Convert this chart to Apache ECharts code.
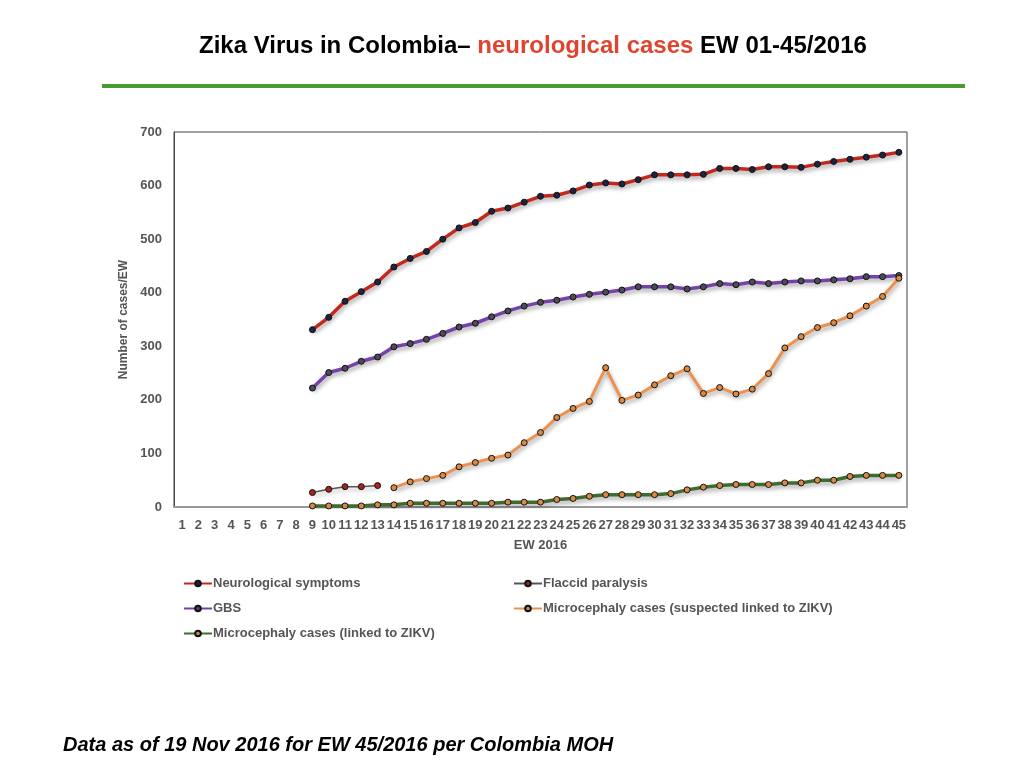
<!DOCTYPE html>
<html lang="en">
<head>
    <meta charset="UTF-8">
    <title>Zika Virus in Colombia - neurological cases</title>
    <script src="https://cdn.jsdelivr.net/npm/echarts@6/dist/echarts.min.js"></script>
    <style>
        html, body { margin: 0; padding: 0; background: #fff; }
        #main { width: 1024px; height: 768px; }
    </style>
</head>
<body>
<div id="main"></div>
<script type="text/javascript">
    // epidemiological weeks 1..45
    var weeks = [];
    for (var w = 1; w <= 45; w++) weeks.push(String(w));

    var yTicks = [0, 100, 200, 300, 400, 500, 600, 700];

    // weeks 1-8 have no data
    var neuro = [null, null, null, null, null, null, null, null,
        331, 354, 384, 402, 420, 448, 464, 477, 500, 521, 531, 552, 558, 569, 580,
        582, 590, 601, 605, 603, 611, 620, 620, 620, 621, 632, 632, 630, 635, 635,
        634, 640, 645, 649, 653, 657, 662];
    var gbs = [null, null, null, null, null, null, null, null,
        222, 251, 259, 272, 280, 299, 305, 313, 324, 336, 343, 355, 366, 375, 382,
        386, 392, 397, 401, 405, 411, 411, 411, 407, 411, 417, 415, 420, 417, 420,
        422, 422, 424, 426, 430, 430, 432];
    var flaccid = [null, null, null, null, null, null, null, null,
        27, 33, 38, 38, 40];
    var microSuspected = [null, null, null, null, null, null, null, null,
        null, null, null, null, null, 36, 47, 53, 59, 75, 83, 91, 97, 120, 139,
        167, 184, 197, 260, 199, 209, 228, 245, 258, 212, 223, 211, 220, 249, 297,
        318, 335, 344, 357, 375, 393, 427];
    var microLinked = [null, null, null, null, null, null, null, null,
        2, 2, 2, 2, 4, 4, 7, 7, 7, 7, 7, 7, 9, 9, 9,
        14, 16, 20, 23, 23, 23, 23, 25, 32, 37, 40, 42, 42, 42, 45,
        45, 50, 50, 57, 59, 59, 59];

    var shadow = { shadowColor: 'rgba(0,0,0,0.35)', shadowBlur: 4, shadowOffsetX: 1, shadowOffsetY: 3 };

    function lineSeries(name, data, lineColor, lineWidth, dotColor) {
        return {
            name: name,
            type: 'line',
            data: data,
            symbol: 'circle',
            symbolSize: 6,
            connectNulls: false,
            lineStyle: Object.assign({ color: lineColor, width: lineWidth }, shadow),
            itemStyle: { color: dotColor, borderColor: '#111', borderWidth: 1 },
            emphasis: { disabled: true }
        };
    }

    var legendText = { fontFamily: 'Liberation Sans', fontSize: 13, fontWeight: 'bold', color: '#555', padding: [0, 0, 0, -4] };

    var myChart = echarts.init(document.getElementById('main'));
    myChart.setOption({
        animation: false,
        textStyle: { fontFamily: 'Liberation Sans' },
        title: [{
            left: 194,
            top: 29,
            text: '{b|Zika Virus in Colombia– }{r|neurological cases}{b| EW 01-45/2016}',
            textStyle: {
                rich: {
                    b: { fontFamily: 'Liberation Sans', fontSize: 24, fontWeight: 'bold', color: '#000' },
                    r: { fontFamily: 'Liberation Sans', fontSize: 24, fontWeight: 'bold', color: '#e0442e' }
                }
            }
        }, {
            left: 58,
            top: 730,
            text: 'Data as of 19 Nov 2016 for EW 45/2016 per Colombia MOH',
            textStyle: { fontFamily: 'Liberation Sans', fontSize: 20, fontWeight: 'bold', fontStyle: 'italic', color: '#000' }
        }],
        graphic: [{
            type: 'rect',
            shape: { x: 102, y: 84, width: 863, height: 4 },
            style: { fill: '#4a9a34' }
        }],
        legend: [{
            left: 178,
            top: 572,
            orient: 'vertical',
            itemGap: 12,
            itemWidth: 28,
            itemHeight: 7,
            textStyle: legendText,
            data: ['Neurological symptoms', 'GBS', 'Microcephaly cases (linked to ZIKV)']
        }, {
            left: 508,
            top: 572,
            orient: 'vertical',
            itemGap: 12,
            itemWidth: 28,
            itemHeight: 7,
            textStyle: legendText,
            data: ['Flaccid paralysis', 'Microcephaly cases (suspected linked to ZIKV)']
        }],
        grid: {
            left: 174,
            right: 117,
            top: 132,
            bottom: 261,
            show: true,
            borderColor: '#444',
            borderWidth: 1
        },
        xAxis: {
            type: 'category',
            data: weeks,
            boundaryGap: true,
            name: 'EW 2016',
            nameLocation: 'middle',
            nameGap: 32,
            nameTextStyle: { fontSize: 13, fontWeight: 'bold', color: '#555' },
            axisLine: { lineStyle: { color: '#999', width: 2 } },
            axisTick: { show: false },
            axisLabel: { interval: 0, fontSize: 13, fontWeight: 'bold', color: '#555', margin: 12, hideOverlap: false }
        },
        yAxis: {
            type: 'value',
            min: yTicks[0],
            max: yTicks[yTicks.length - 1],
            interval: 100,
            name: 'Number of cases/EW',
            nameLocation: 'middle',
            nameGap: 40,
            nameTextStyle: { fontSize: 12, fontWeight: 'bold', color: '#555' },
            axisLine: { show: true, lineStyle: { color: '#444' } },
            axisTick: { show: false },
            splitLine: { show: false },
            axisLabel: { fontSize: 13, fontWeight: 'bold', color: '#555', margin: 12 }
        },
        series: [
            lineSeries('Neurological symptoms', neuro, '#c2281c', 3.5, '#1c2444'),
            lineSeries('Flaccid paralysis', flaccid, '#555555', 1.5, '#a8241e'),
            lineSeries('GBS', gbs, '#7443aa', 3.5, '#4c4c56'),
            lineSeries('Microcephaly cases (suspected linked to ZIKV)', microSuspected, '#ec9250', 3, '#d98a42'),
            lineSeries('Microcephaly cases (linked to ZIKV)', microLinked, '#3f6a30', 3.5, '#d98a42')
        ]
    });
</script>
</body>
</html>
